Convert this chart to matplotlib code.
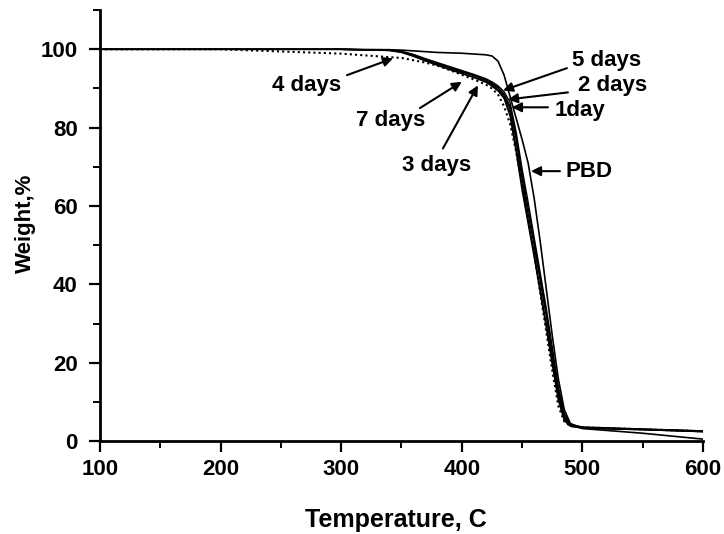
import numpy as np
import matplotlib
matplotlib.use("Agg")
from matplotlib import pyplot as plt
from matplotlib.ticker import MultipleLocator

plt.rcParams['font.family'] = ['Liberation Sans', 'DejaVu Sans']
plt.rcParams['font.weight'] = 'bold'

# temperature grid (C)
temp = [100, 200, 300, 340, 350, 360, 370, 380, 390, 400, 410, 420, 425, 430, 435,
        440, 445, 450, 455, 460, 465, 470, 475, 480, 485, 490, 500, 550, 600]

# weight % for each sample
day1 = [100, 100, 100, 99.8, 99.4, 98.5, 97.3, 96.2, 95.2, 94.2, 93.3, 92.1, 91.2, 90.1, 88.3,
        85, 77, 67, 58, 50, 41, 32, 22, 12, 6, 4, 3.4, 3.0, 2.5]
day2 = [100, 100, 100, 99.8, 99.4, 98.6, 97.5, 96.4, 95.4, 94.4, 93.4, 92.2, 91.4, 90.3, 88.6,
        85.5, 78, 68.5, 59.5, 51, 42, 33, 23, 13, 6.5, 4.2, 3.5, 3.0, 2.6]
day3 = [100, 100, 100, 99.7, 99.2, 98.2, 97.0, 95.9, 94.8, 93.8, 92.8, 91.6, 90.6, 89.4, 87.5,
        83, 74, 64, 55.5, 47, 38, 29, 19.5, 10.5, 5.2, 3.8, 3.3, 2.9, 2.4]
day4 = [100, 100, 98.9, 98.0, 97.8, 97.2, 96.6, 95.8, 94.7, 93.5, 92.3, 91.0, 90.0, 88.5, 85.5,
        81, 74, 65.5, 57, 48, 38, 28, 18, 9, 5, 3.8, 3.5, 3.0, 2.5]
day5 = [100, 100, 100, 99.8, 99.5, 98.7, 97.6, 96.6, 95.6, 94.6, 93.6, 92.5, 91.7, 90.7, 89.2,
        86.5, 79, 69.5, 61, 52, 43, 34, 24, 14, 7, 4.3, 3.6, 3.1, 2.6]
day7 = [100, 100, 100, 99.7, 99.3, 98.3, 97.1, 96.0, 94.9, 93.9, 92.9, 91.8, 90.9, 89.7, 87.8,
        84, 75, 65.5, 56.5, 48, 39, 30, 20.5, 11, 5.5, 3.9, 3.3, 2.9, 2.4]
pbd = [100, 100, 100, 99.9, 99.8, 99.6, 99.4, 99.2, 99.1, 99.0, 98.8, 98.6, 98.3, 97.0, 93.5,
       88, 82.5, 77, 71, 62, 51, 39, 27, 16, 8, 4.5, 3.2, 2.0, 0.5]

fig = plt.figure(figsize=(7.24, 5.34), dpi=100)
ax = fig.add_axes([0.138, 0.174, 0.833, 0.807])

for w in [day1, day2, day3, day5, day7]:
    ax.plot(temp, w, color='black', lw=1.0)
ax.plot(temp, day4, color='black', lw=1.5, ls=(0, (1, 1.5)))
ax.plot(temp, pbd, color='black', lw=1.2)

ax.set_xlim(100, 600)
ax.set_ylim(0, 110)
ax.xaxis.set_major_locator(MultipleLocator(100))
ax.xaxis.set_minor_locator(MultipleLocator(50))
ax.yaxis.set_major_locator(MultipleLocator(20))
ax.yaxis.set_minor_locator(MultipleLocator(10))
for s in ['top', 'right']:
    ax.spines[s].set_visible(False)
for s in ['left', 'bottom']:
    ax.spines[s].set_linewidth(2)
ax.tick_params(which='major', length=8, width=1.6, labelsize=16, pad=5)
ax.tick_params(axis='y', which='major', pad=8)
ax.tick_params(which='minor', length=5, width=1.4)
ax.set_xlabel('Temperature, C', fontsize=18, fontweight='bold')
ax.set_ylabel('Weight,%', fontsize=16, fontweight='bold')
ax.xaxis.set_label_coords(0.491, -0.155)
ax.yaxis.set_label_coords(-0.106, 0.506)

arrow = dict(arrowstyle='-|>', color='black', lw=1.5, mutation_scale=14, shrinkA=0, shrinkB=0)
# label, arrow tip, arrow start, text left edge
notes = [
    ('4 days', (343, 97.7), (304.8, 93.4), (242.6, 90.8)),
    ('7 days', (400, 91.7), (365.3, 85.0), (312.3, 81.9)),
    ('3 days', (413.4, 90.8), (384.4, 74.7), (350.4, 70.4)),
    ('5 days', (434.2, 89.5), (487.2, 95.2), (491.4, 97.2)),
    ('2 days', (438.3, 87.2), (488.0, 89.0), (496.4, 90.8)),
    ('1day', (441.6, 85.2), (471.5, 85.2), (477.3, 84.4)),
    ('PBD', (457.4, 68.9), (481.4, 68.9), (485.6, 68.9)),
]
for txt, tip, start, pos in notes:
    ax.annotate('', xy=tip, xytext=start, arrowprops=arrow)
    ax.text(pos[0], pos[1], txt, fontsize=16, fontweight='bold', va='center', ha='left')

fig.savefig('out.png', dpi=100)
